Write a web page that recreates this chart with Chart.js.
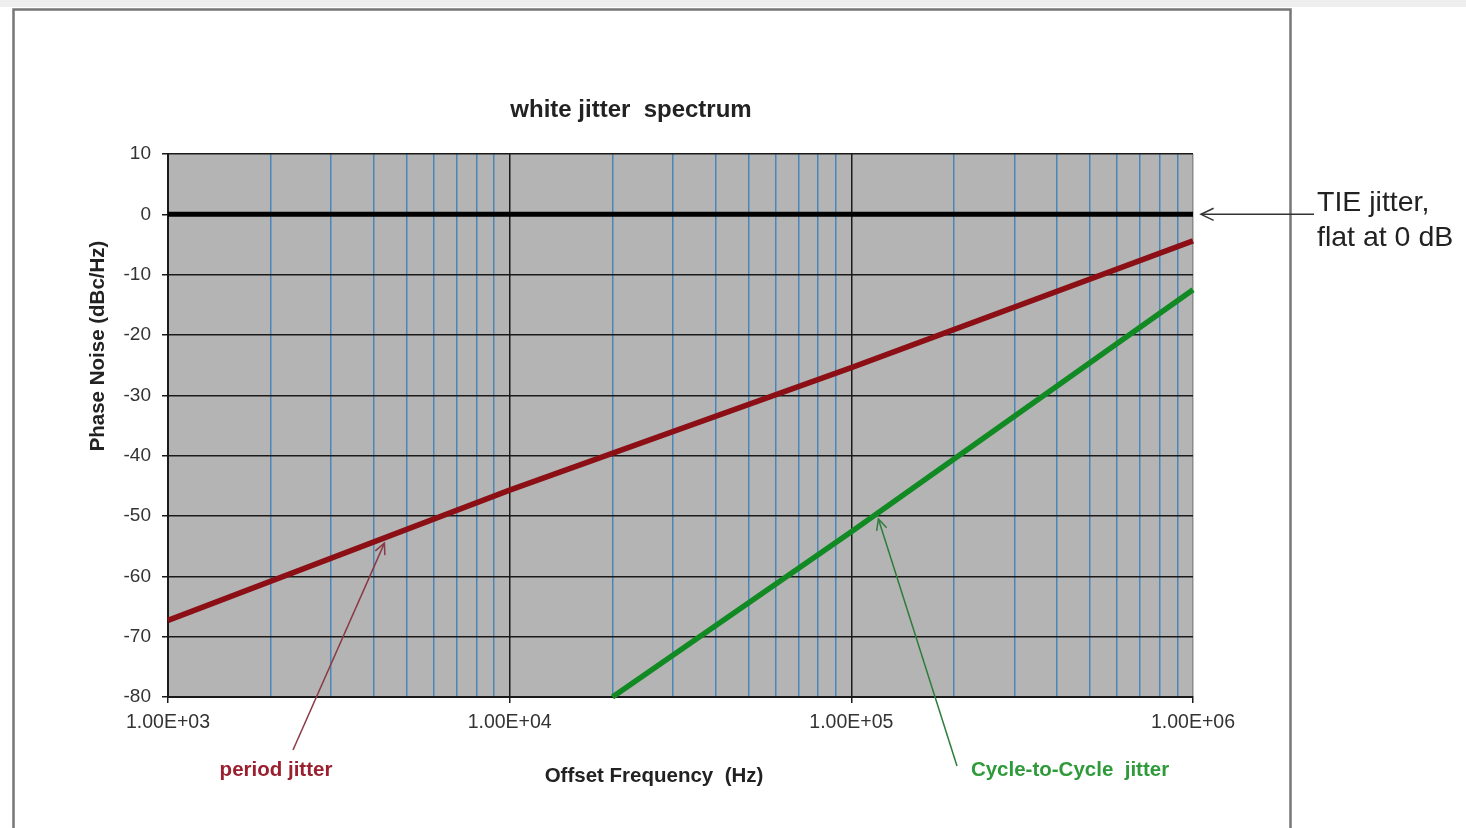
<!DOCTYPE html>
<html><head><meta charset="utf-8">
<script src="https://cdn.jsdelivr.net/npm/chart.js@4.4.1/dist/chart.umd.min.js"></script>
<style>html,body{margin:0;padding:0;background:#fff;overflow:hidden}canvas{display:block}</style>
</head><body>
<canvas id="c" width="1466" height="828"></canvas>
<script>
// ---- data ----
const frequencyTicks = [1000,2000,3000,4000,5000,6000,7000,8000,9000,
  10000,20000,30000,40000,50000,60000,70000,80000,90000,
  100000,200000,300000,400000,500000,600000,700000,800000,900000,1000000];
const decadeValues = [1000, 10000, 100000, 1000000];
const decadeLabels = ['1.00E+03', '1.00E+04', '1.00E+05', '1.00E+06'];
const phaseTicks = [10, 0, -10, -20, -30, -40, -50, -60, -70, -80];

const tieFreq = [1000, 1000000];
const tieValues = [0, 0];
const periodFreq = [1000, 10000, 100000, 1000000];
const periodValues = [-67.3, -45.7, -25.4, -4.4];
const c2cFreq = [20000, 100000, 1000000];
const c2cValues = [-80, -52.6, -12.5];

const periodArrowTip = {x: 4300, y: -54.5};
const c2cArrowTip = {x: 120000, y: -50.5};

const FONT = "'Liberation Sans', Arial, sans-serif";

function pts(xs, ys) { return xs.map((x, i) => ({x: x, y: ys[i]})); }

function arrow(ctx, x0, y0, x1, y1, color, w, head) {
  ctx.strokeStyle = color; ctx.lineWidth = w;
  ctx.beginPath(); ctx.moveTo(x0, y0); ctx.lineTo(x1, y1); ctx.stroke();
  const ang = Math.atan2(y1 - y0, x1 - x0);
  ctx.beginPath();
  ctx.moveTo(x1 - head * Math.cos(ang - 0.45), y1 - head * Math.sin(ang - 0.45));
  ctx.lineTo(x1, y1);
  ctx.lineTo(x1 - head * Math.cos(ang + 0.45), y1 - head * Math.sin(ang + 0.45));
  ctx.stroke();
}

const decor = {
  id: 'decor',
  beforeDraw(chart) {
    const {ctx, chartArea: a} = chart;
    ctx.save();
    ctx.fillStyle = '#ffffff'; ctx.fillRect(0, 0, chart.width, chart.height);
    ctx.fillStyle = '#eeeeee'; ctx.fillRect(0, 0, chart.width, 7);
    ctx.strokeStyle = '#777777'; ctx.lineWidth = 2.5;
    ctx.strokeRect(13.5, 9.5, 1277, 840);
    ctx.fillStyle = '#b4b4b4';
    ctx.fillRect(a.left, a.top, a.right - a.left, a.bottom - a.top);
    ctx.restore();
  },
  afterDraw(chart) {
    const {ctx} = chart;
    const xs = chart.scales.x, ys = chart.scales.y;
    ctx.save();
    // title
    ctx.fillStyle = '#222'; ctx.textAlign = 'center'; ctx.textBaseline = 'alphabetic';
    ctx.font = 'bold 24px ' + FONT;
    ctx.fillText('white jitter  spectrum', 631, 117);
    // x axis title
    ctx.font = 'bold 20.5px ' + FONT; ctx.textBaseline = 'middle';
    ctx.fillText('Offset Frequency  (Hz)', 654, 776);
    // y axis title
    ctx.save();
    ctx.translate(98, 346); ctx.rotate(-Math.PI / 2);
    ctx.fillText('Phase Noise (dBc/Hz)', 0, 0);
    ctx.restore();
    // series labels
    ctx.font = 'bold 20.5px ' + FONT;
    ctx.fillStyle = '#9a2030';
    ctx.fillText('period jitter', 276, 770);
    ctx.fillStyle = '#2f9a3a';
    ctx.fillText('Cycle-to-Cycle  jitter', 1070, 770);
    // TIE annotation
    ctx.fillStyle = '#222'; ctx.textAlign = 'left';
    ctx.font = '28.5px ' + FONT;
    ctx.fillText('TIE jitter,', 1317, 203);
    ctx.fillText('flat at 0 dB', 1317, 238);
    // arrows
    const pTip = {x: xs.getPixelForValue(periodArrowTip.x), y: ys.getPixelForValue(periodArrowTip.y)};
    arrow(ctx, 293, 750, pTip.x, pTip.y, '#8a3a44', 1.5, 12);
    const cTip = {x: xs.getPixelForValue(c2cArrowTip.x), y: ys.getPixelForValue(c2cArrowTip.y)};
    arrow(ctx, 957, 766, cTip.x, cTip.y, '#2e7d3a', 1.5, 12);
    const tieY = ys.getPixelForValue(tieValues[1]);
    arrow(ctx, 1314, tieY, xs.getPixelForValue(tieFreq[1]) + 8, tieY, '#333', 1.5, 14);
    ctx.restore();
  }
};

new Chart(document.getElementById('c'), {
  type: 'scatter',
  data: {
    datasets: [
      {label: 'TIE jitter', data: pts(tieFreq, tieValues), showLine: true, borderColor: '#000000', borderWidth: 5, pointRadius: 0, clip: false},
      {label: 'period jitter', data: pts(periodFreq, periodValues), showLine: true, borderColor: '#8b0f14', borderWidth: 5.5, pointRadius: 0, clip: false},
      {label: 'Cycle-to-Cycle jitter', data: pts(c2cFreq, c2cValues), showLine: true, borderColor: '#128a24', borderWidth: 5.5, pointRadius: 0, clip: false}
    ]
  },
  options: {
    responsive: false,
    animation: false,
    layout: {padding: {left: 0, top: 154, right: 273, bottom: 0}},
    plugins: {legend: {display: false}, tooltip: {enabled: false}, title: {display: false}},
    scales: {
      x: {
        type: 'logarithmic', min: 1000, max: 1000000,
        afterBuildTicks(s) { s.ticks = frequencyTicks.map(v => ({value: v})); },
        afterFit(s) { s.height = 131; },
        ticks: {
          autoSkip: false, maxRotation: 0, padding: 8, color: '#333',
          font: {family: FONT, size: 19.5},
          callback(v) { const i = decadeValues.indexOf(v); return i >= 0 ? decadeLabels[i] : ''; }
        },
        grid: {
          color(ctx) {
            const v = ctx.tick && ctx.tick.value;
            if (v === 1000000) return '#8a8a8a';
            return decadeValues.includes(v) ? '#1a1a1a' : '#4a86b8';
          },
          lineWidth: 1.5, tickLength: 6,
          tickColor(ctx) { return decadeValues.includes(ctx.tick && ctx.tick.value) ? '#1a1a1a' : 'rgba(0,0,0,0)'; }
        },
        border: {color: '#1a1a1a', width: 2}
      },
      y: {
        type: 'linear', min: -80, max: 10,
        afterBuildTicks(s) { s.ticks = phaseTicks.map(v => ({value: v})); },
        afterFit(s) { s.width = 168; },
        ticks: {padding: 11, color: '#333', font: {family: FONT, size: 19}},
        grid: {color: '#1a1a1a', lineWidth: 1.5, tickLength: 6, tickColor: '#1a1a1a'},
        border: {color: '#1a1a1a', width: 2}
      }
    }
  },
  plugins: [decor]
});
</script>
</body></html>
